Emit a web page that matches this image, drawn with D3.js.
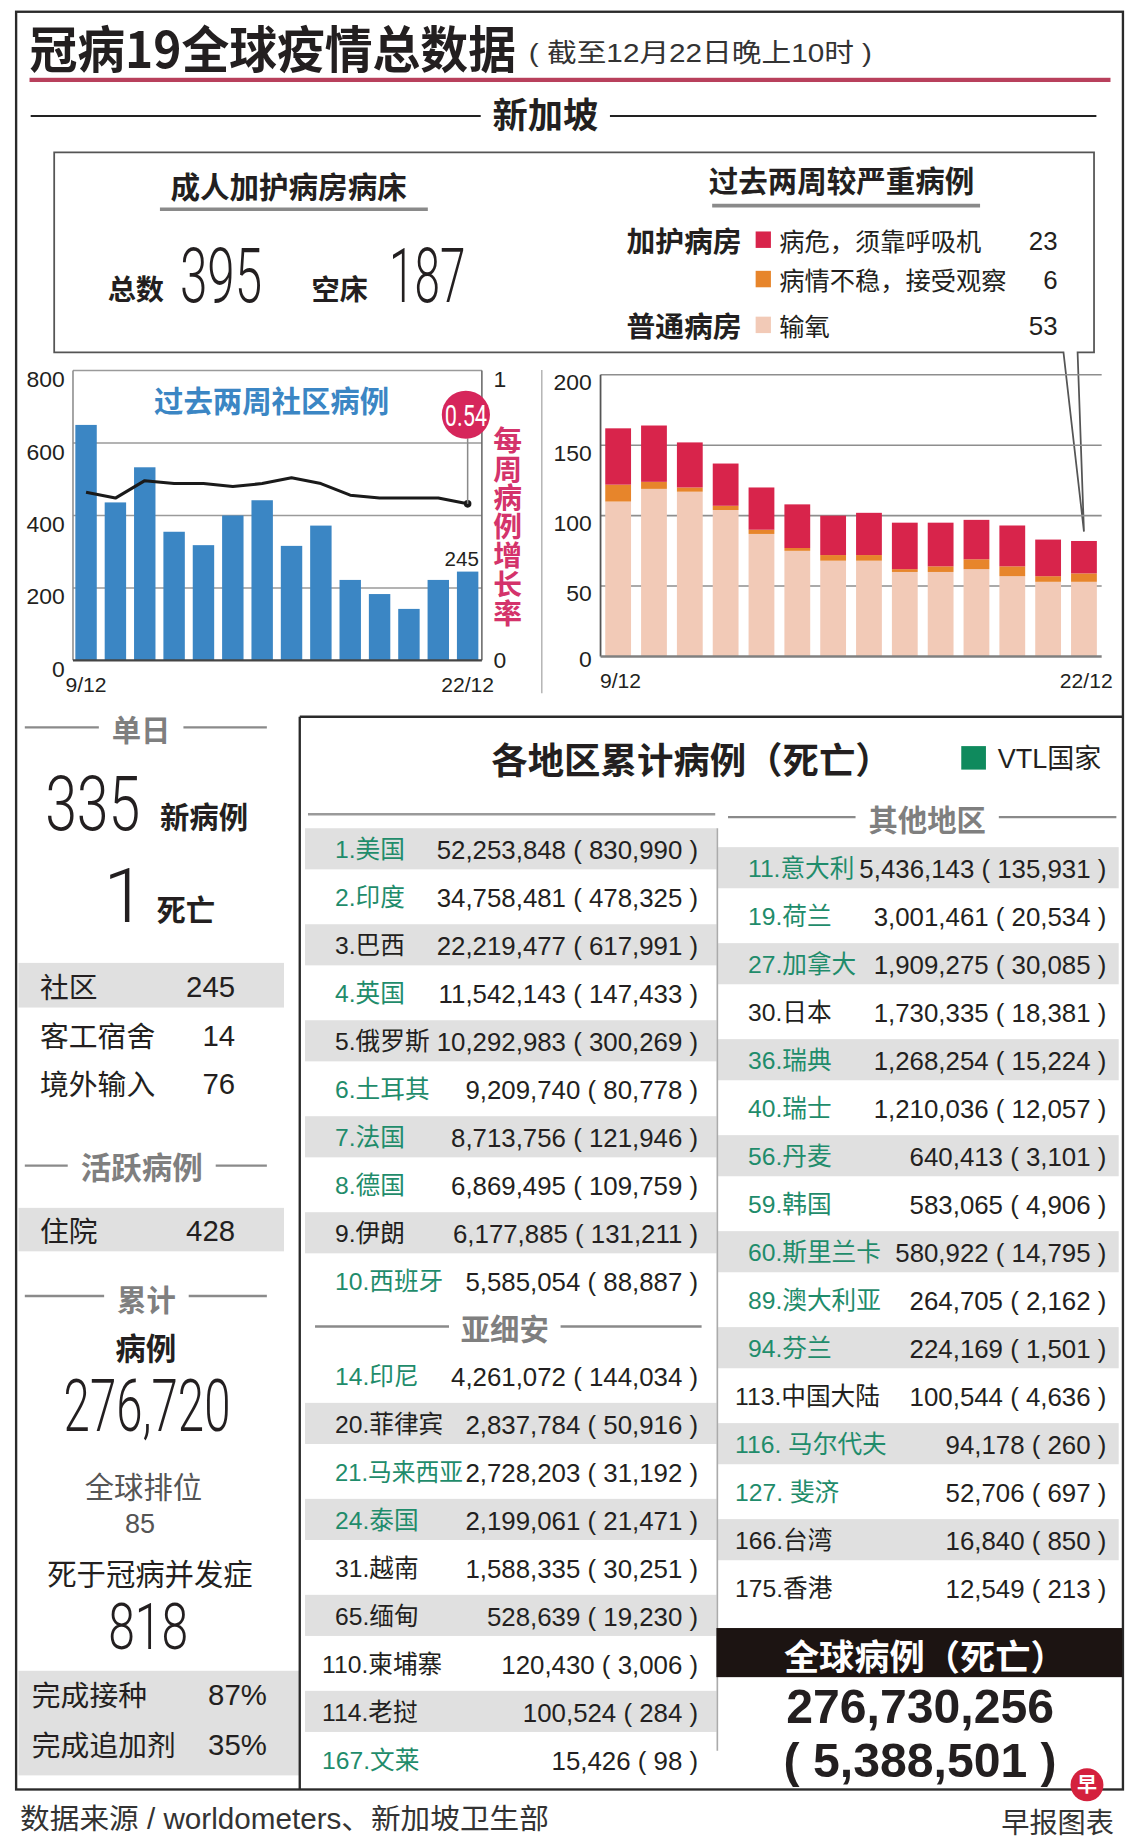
<!DOCTYPE html>
<html>
<head>
<meta charset="utf-8">
<script src="https://cdn.jsdelivr.net/npm/d3@7"></script>
<style>
  html, body { margin: 0; padding: 0; background: #fff; }
  svg { display: block; }
</style>
</head>
<body>
<svg id="chart"></svg>
<script>
// ---- data ----
const dates = ['9/12', '10/12', '11/12', '12/12', '13/12', '14/12', '15/12', '16/12', '17/12', '18/12', '19/12', '20/12', '21/12', '22/12'];
const communityCases = [650, 436, 533, 355, 318, 400, 442, 316, 372, 222, 183, 142, 222, 245];
const weeklyGrowth = [0.58, 0.56, 0.62, 0.61, 0.61, 0.60, 0.61, 0.63, 0.61, 0.57, 0.56, 0.56, 0.56, 0.54];
const oxygen = [110, 119, 117, 104, 87, 75, 68, 68, 60, 60, 62, 57, 53, 53];
const unstable = [12, 5, 3, 3, 3, 2, 4, 4, 2, 4, 7, 7, 4, 6];
const critical = [40, 40, 32, 30, 30, 31, 28, 30, 33, 31, 28, 29, 26, 23];

const leftTicks = [0, 200, 400, 600, 800];
const rateTicks = [0, 1];
const severeTicks = [0, 50, 100, 150, 200];

const icuBeds = [['总数', '395'], ['空床', '187']];
const severeLegend = [
  ['加护病房', '病危，须靠呼吸机', '23', 'critical'],
  ['', '病情不稳，接受观察', '6', 'unstable'],
  ['普通病房', '输氧', '53', 'oxygen']
];

const dailyNew = '335';
const dailyDeaths = '1';
const dailySources = [['社区', '245'], ['客工宿舍', '14'], ['境外输入', '76']];
const activeCases = [['住院', '428']];
const totalCases = '276,720';
const worldRank = '85';
const totalDeaths = '818';
const vaccination = [['完成接种', '87%'], ['完成追加剂', '35%']];

// [label, cases, deaths, VTL]
const topTen = [
  ['1.美国', '52,253,848', '830,990', true],
  ['2.印度', '34,758,481', '478,325', true],
  ['3.巴西', '22,219,477', '617,991', false],
  ['4.英国', '11,542,143', '147,433', true],
  ['5.俄罗斯', '10,292,983', '300,269', false],
  ['6.土耳其', '9,209,740', '80,778', true],
  ['7.法国', '8,713,756', '121,946', true],
  ['8.德国', '6,869,495', '109,759', true],
  ['9.伊朗', '6,177,885', '131,211', false],
  ['10.西班牙', '5,585,054', '88,887', true]
];
const asean = [
  ['14.印尼', '4,261,072', '144,034', true],
  ['20.菲律宾', '2,837,784', '50,916', false],
  ['21.马来西亚', '2,728,203', '31,192', true],
  ['24.泰国', '2,199,061', '21,471', true],
  ['31.越南', '1,588,335', '30,251', false],
  ['65.缅甸', '528,639', '19,230', false],
  ['110.柬埔寨', '120,430', '3,006', false],
  ['114.老挝', '100,524', '284', false],
  ['167.文莱', '15,426', '98', true]
];
const otherRegions = [
  ['11.意大利', '5,436,143', '135,931', true],
  ['19.荷兰', '3,001,461', '20,534', true],
  ['27.加拿大', '1,909,275', '30,085', true],
  ['30.日本', '1,730,335', '18,381', false],
  ['36.瑞典', '1,268,254', '15,224', true],
  ['40.瑞士', '1,210,036', '12,057', true],
  ['56.丹麦', '640,413', '3,101', true],
  ['59.韩国', '583,065', '4,906', true],
  ['60.斯里兰卡', '580,922', '14,795', true],
  ['89.澳大利亚', '264,705', '2,162', true],
  ['94.芬兰', '224,169', '1,501', true],
  ['113.中国大陆', '100,544', '4,636', false],
  ['116. 马尔代夫', '94,178', '260', true],
  ['127. 斐济', '52,706', '697', true],
  ['166.台湾', '16,840', '850', false],
  ['175.香港', '12,549', '213', false]
];
const globalCases = '276,730,256';
const globalDeaths = '5,388,501';

// ---- styles ----
const INK = '#231f20';
const GREY = '#7f7f7f';
const BAND = '#e0e0e0';
const GREEN = '#1f8c6b';
const BLUE = '#3b86c4';
const PINK = '#d6265b';
const STACK = {oxygen: '#f2cab7', unstable: '#e7852b', critical: '#d8244b'};
const CJK = '"Noto Sans CJK SC", "Noto Sans", sans-serif';
const NUM = '"Liberation Sans", Arial, "Noto Sans CJK SC", sans-serif';
const THIN = 'Roboto, "Liberation Sans", sans-serif';

const svg = d3.select('#chart')
  .attr('width', 1140).attr('height', 1840)
  .attr('viewBox', '0 0 970 1566');

function label(g, x, y, s, o = {}) {
  const t = g.append('text')
    .attr('x', x).attr('y', y)
    .attr('font-family', o.font || CJK)
    .attr('font-size', o.size || 22)
    .attr('font-weight', o.weight || 400)
    .attr('fill', o.fill || INK)
    .attr('text-anchor', o.anchor || 'start')
    .attr('dominant-baseline', o.base || 'central')
    .text(s);
  if (o.len) t.attr('textLength', o.len).attr('lengthAdjust', 'spacingAndGlyphs');
  return t;
}

// condensed thin figures: squeeze horizontally to the width seen in the picture
function squeezed(g, x, y, s, len, o = {}) {
  const t = label(g, 0, 0, s, Object.assign({font: THIN, weight: 300, base: 'alphabetic'}, o));
  const w = t.node().getComputedTextLength();
  t.attr('transform', `translate(${x},${y}) scale(${len / w},1)`);
  return t;
}

function hline(g, x1, x2, y, color, w) {
  g.append('line').attr('x1', x1).attr('x2', x2).attr('y1', y).attr('y2', y)
    .attr('stroke', color).attr('stroke-width', w);
}
function vline(g, x, y1, y2, color, w) {
  g.append('line').attr('x1', x).attr('x2', x).attr('y1', y1).attr('y2', y2)
    .attr('stroke', color).attr('stroke-width', w);
}

function sectionHeader(g, cx, y, s, x0, x1, o = {}) {
  const t = label(g, cx, y, s, Object.assign({anchor: 'middle', weight: 700, fill: GREY, size: 25}, o));
  const w = t.node().getComputedTextLength();
  const gap = o.gap || 11;
  const ly = o.lineY || y;
  hline(g, x0, cx - w / 2 - gap, ly, o.lineColor || '#8a8a8a', o.lineWidth || 2);
  hline(g, cx + w / 2 + gap, x1, ly, o.lineColor || '#8a8a8a', o.lineWidth || 2);
}

function draw() {
  // ---- frame & title ----
  svg.append('rect').attr('x', 13.6).attr('y', 10).attr('width', 942).attr('height', 1513)
    .attr('fill', 'none').attr('stroke', '#2a2a2a').attr('stroke-width', 2);
  label(svg, 25, 39.5, '冠病19全球疫情总数据', {size: 43, weight: 700, len: 414});
  label(svg, 450, 45.5, '( 截至12月22日晚上10时 )', {font: NUM, size: 22, fill: '#333', len: 292});
  svg.append('rect').attr('x', 25).attr('y', 66.2).attr('width', 920).attr('height', 3.6).attr('fill', '#b8405c');
  sectionHeader(svg, 464, 95.5, '新加坡', 26, 933, {size: 30, fill: INK, lineY: 98.7, lineColor: '#222', lineWidth: 1.6, gap: 10});

  // ---- ICU box with callout to last stacked bar ----
  const xS = d3.scaleBand().domain(dates).range([515, 933.4]).paddingInner(0.28);
  const yS = d3.scaleLinear().domain([0, 200]).range([558.7, 319]);
  const last = dates.length - 1;
  const apexX = xS(dates[last]) + xS.bandwidth() / 2;
  const apexY = yS(oxygen[last] + unstable[last] + critical[last]) - 8;
  svg.append('path')
    .attr('d', `M46,129.6 H931 V300 H917 L${apexX},${apexY} L905,300 H46 Z`)
    .attr('fill', 'none').attr('stroke', '#555').attr('stroke-width', 1.5);

  label(svg, 245.5, 157.5, '成人加护病房病床', {size: 25, weight: 700, len: 201, anchor: 'middle'});
  hline(svg, 136, 364, 178, '#8a8a8a', 3);
  label(svg, 716, 152.5, '过去两周较严重病例', {size: 25, weight: 700, len: 226, anchor: 'middle'});
  hline(svg, 606, 834, 175, '#8a8a8a', 3);

  const bedX = [[91.5, 153, 70], [265, 331, 65]];
  icuBeds.forEach((d, i) => {
    label(svg, bedX[i][0], 245, d[0], {size: 24, weight: 700});
    squeezed(svg, bedX[i][1], 257, d[1], bedX[i][2], {size: 64});
  });

  const legY = [204, 237.5, 276.5];
  severeLegend.forEach((d, i) => {
    if (d[0]) label(svg, 533, legY[i], d[0], {size: 24.5, weight: 700, len: 98});
    svg.append('rect').attr('x', 643).attr('y', legY[i] - 7).attr('width', 13).attr('height', 14).attr('fill', STACK[d[3]]);
    label(svg, 663, legY[i], d[1], {size: 21.5});
    label(svg, 900, legY[i] + 1, d[2], {font: NUM, size: 22, anchor: 'end'});
  });

  // ---- left chart: community cases + weekly growth ----
  const xL = d3.scaleBand().domain(dates).range([64, 407]).paddingInner(0.27);
  const yL = d3.scaleLinear().domain([0, 800]).range([562, 315.4]);
  const yR = d3.scaleLinear().domain([0, 1]).range([562, 315.4]);
  const gl = svg.append('g');

  leftTicks.filter(t => t > 0).forEach(t => hline(gl, 62, 410, yL(t), '#9a9a9a', 1.3));
  vline(gl, 62, yL(800), yL(0), '#8a8a8a', 1.3);
  vline(gl, 410, yL(800), yL(0), '#666', 1.3);

  gl.selectAll('rect.bar').data(communityCases).join('rect').attr('class', 'bar')
    .attr('x', (d, i) => xL(dates[i])).attr('width', xL.bandwidth())
    .attr('y', d => yL(d)).attr('height', d => yL(0) - yL(d))
    .attr('fill', BLUE);
  hline(gl, 62, 410, yL(0), '#444', 2);

  const fsTick = 19.5;
  const fsDate = 18;
  gl.append('g').attr('transform', 'translate(62,0)')
    .call(d3.axisLeft(yL).tickValues(leftTicks).tickSize(0).tickPadding(7))
    .call(g => g.select('.domain').remove())
    .attr('font-family', NUM).attr('font-size', fsTick).attr('color', INK)
    .selectAll('text').attr('dy', 0.34 * fsTick + 7);
  gl.append('g').attr('transform', 'translate(410,0)')
    .call(d3.axisRight(yR).tickValues(rateTicks).tickFormat(d3.format('d')).tickSize(0).tickPadding(10))
    .call(g => g.select('.domain').remove())
    .attr('font-family', NUM).attr('font-size', fsTick).attr('color', INK)
    .selectAll('text').attr('dy', d => 0.34 * fsTick + (d === 0 ? -1 : 6.5));
  gl.append('g').attr('transform', `translate(0,${yL(0)})`)
    .call(d3.axisBottom(xL).tickValues([dates[0], dates[last]]).tickSize(0).tickPadding(14))
    .call(g => g.select('.domain').remove())
    .attr('font-family', NUM).attr('font-size', fsDate).attr('color', INK);

  const cx = i => xL(dates[i]) + xL.bandwidth() / 2;
  label(gl, cx(last) - 5, yL(communityCases[last]) - 11, communityCases[last], {font: NUM, size: 17.5, anchor: 'middle'});
  gl.append('path').datum(weeklyGrowth)
    .attr('d', d3.line().x((d, i) => cx(i)).y(d => yR(d)))
    .attr('fill', 'none').attr('stroke', '#1a1a1a').attr('stroke-width', 2.6).attr('stroke-linejoin', 'round');
  gl.append('circle').attr('cx', cx(last)).attr('cy', yR(weeklyGrowth[last])).attr('r', 3.2).attr('fill', '#1a1a1a');

  const bubbleY = 353;
  vline(gl, cx(last), bubbleY + 20, yR(weeklyGrowth[last]), '#8a8a8a', 1.3);
  gl.append('circle').attr('cx', cx(last) - 1.5).attr('cy', bubbleY).attr('r', 20.5).attr('fill', PINK);
  squeezed(gl, cx(last) - 1.5, bubbleY + 9.5, d3.format('.2f')(weeklyGrowth[last]), 36,
    {size: 25, weight: 400, fill: '#fff', anchor: 'middle'});

  label(gl, 231, 340, '过去两周社区病例', {size: 25, weight: 700, fill: BLUE, anchor: 'middle', len: 200});
  // vertical axis title, one text element set top-to-bottom
  gl.append('text')
    .attr('x', 432).attr('y', 362)
    .style('writing-mode', 'vertical-rl')
    .attr('font-family', CJK).attr('font-size', 24.5).attr('font-weight', 700)
    .attr('fill', '#d4336b')
    .attr('textLength', 172).attr('lengthAdjust', 'spacing')
    .text('每周病例增长率');

  vline(svg, 461, 315, 590, '#b0b0b0', 1.2);

  // ---- right chart: severe cases stacked ----
  const gr = svg.append('g');
  severeTicks.filter(t => t > 0).forEach(t => hline(gr, 511, 937.5, yS(t), '#8e8e8e', 1.3));
  const rows = dates.map((d, i) => ({date: d, oxygen: oxygen[i], unstable: unstable[i], critical: critical[i]}));
  const series = d3.stack().keys(['oxygen', 'unstable', 'critical'])(rows);
  gr.selectAll('g.layer').data(series).join('g').attr('class', 'layer')
    .attr('fill', s => STACK[s.key])
    .selectAll('rect').data(s => s).join('rect')
    .attr('x', d => xS(d.data.date)).attr('width', xS.bandwidth())
    .attr('y', d => yS(d[1])).attr('height', d => yS(d[0]) - yS(d[1]));
  vline(gr, 511, yS(200), yS(0), '#555', 1.5);
  hline(gr, 511, 937.5, yS(0), '#808080', 2);
  gr.append('g').attr('transform', 'translate(511,0)')
    .call(d3.axisLeft(yS).tickValues(severeTicks).tickSize(0).tickPadding(7.5))
    .call(g => g.select('.domain').remove())
    .attr('font-family', NUM).attr('font-size', fsTick).attr('color', INK)
    .selectAll('text').attr('dy', d => 0.34 * fsTick + (d === 0 ? 1.5 : 6));
  gr.append('g').attr('transform', `translate(2,${yS(0)})`)
    .call(d3.axisBottom(xS).tickValues([dates[0], dates[last]]).tickSize(0).tickPadding(14))
    .call(g => g.select('.domain').remove())
    .attr('font-family', NUM).attr('font-size', fsDate).attr('color', INK);

  // ---- left column: Singapore numbers ----
  const gs = svg.append('g');
  sectionHeader(gs, 120, 620, '单日', 21, 227, {lineY: 619});
  squeezed(gs, 38.3, 706, dailyNew, 81, {size: 65});
  label(gs, 136, 694, '新病例', {size: 25, weight: 700});
  label(gs, 106, 784.6, dailyDeaths, {font: THIN, size: 65, weight: 300, base: 'alphabetic', anchor: 'middle'});
  label(gs, 133, 773, '死亡', {size: 25, weight: 700});

  const srcY = [838.5, 880.5, 921];
  gs.append('rect').attr('x', 15.6).attr('y', 819.5).attr('width', 226).attr('height', 38).attr('fill', BAND);
  dailySources.forEach((d, i) => {
    label(gs, 34, srcY[i], d[0], {size: 24.5});
    label(gs, 200, srcY[i] + 1, d[1], {font: NUM, size: 25, anchor: 'end'});
  });

  sectionHeader(gs, 120.5, 992, '活跃病例', 21, 227, {size: 26});
  gs.append('rect').attr('x', 15.6).attr('y', 1028).attr('width', 226).attr('height', 37).attr('fill', BAND);
  activeCases.forEach(d => {
    label(gs, 34, 1046.5, d[0], {size: 24.5});
    label(gs, 200, 1047.5, d[1], {font: NUM, size: 25, anchor: 'end'});
  });

  sectionHeader(gs, 124.5, 1105, '累计', 21, 227, {lineY: 1103});
  label(gs, 124, 1146, '病例', {size: 26, weight: 700, anchor: 'middle'});
  squeezed(gs, 54, 1218, totalCases, 142, {size: 61});
  label(gs, 122, 1263.5, '全球排位', {size: 25, fill: '#555', anchor: 'middle'});
  label(gs, 119, 1297, worldRank, {font: NUM, size: 23, fill: '#555', anchor: 'middle'});
  label(gs, 127.5, 1338, '死于冠病并发症', {size: 25, anchor: 'middle'});
  squeezed(gs, 92, 1403.5, totalDeaths, 68, {size: 55});

  gs.append('rect').attr('x', 15.6).attr('y', 1422).attr('width', 239.4).attr('height', 89).attr('fill', BAND);
  const vacY = [1441, 1484];
  vaccination.forEach((d, i) => {
    label(gs, 27, vacY[i], d[0], {size: 24.5});
    label(gs, 227, vacY[i] + 1, d[1], {font: NUM, size: 25, anchor: 'end'});
  });

  // ---- table of regions ----
  const gt = svg.append('g');
  const PITCH = 40.85;
  function drawTable(data, y0, nameX, rightX, band, grayParity) {
    const yb = d3.scaleBand().domain(d3.range(data.length))
      .range([y0 - PITCH / 2, y0 - PITCH / 2 + PITCH * data.length]);
    const row = gt.append('g').selectAll('g').data(data).join('g')
      .attr('transform', (d, i) => `translate(0,${yb(i) + yb.bandwidth() / 2})`);
    row.filter((d, i) => i % 2 === grayParity).append('rect')
      .attr('x', band[0]).attr('y', -17.5).attr('width', band[1] - band[0]).attr('height', 35)
      .attr('fill', BAND);
    row.each(function(d) {
      const r = d3.select(this);
      const x0 = parseInt(d[0]) >= 100 ? nameX - 11 : nameX;
      const val = r.append('text')
        .attr('x', rightX).attr('y', 1).attr('text-anchor', 'end')
        .attr('dominant-baseline', 'central')
        .attr('font-family', NUM).attr('font-size', 22).attr('fill', INK)
        .text(`${d[1]} ( ${d[2]} )`);
      const name = r.append('text')
        .attr('dominant-baseline', 'central')
        .attr('font-family', NUM).attr('font-size', 21)
        .attr('fill', d[3] ? GREEN : INK)
        .text(d[0]);
      // squeeze a long name so it stops just before the figures
      const room = rightX - val.node().getComputedTextLength() - 2 - x0;
      const w = name.node().getComputedTextLength();
      const sx = w > room ? room / w : 1;
      name.attr('transform', `translate(${x0},1) scale(${sx},1)`);
    });
  }

  label(gt, 418, 645, '各地区累计病例（死亡）', {size: 31, weight: 700});
  gt.append('rect').attr('x', 818).attr('y', 635).attr('width', 21).attr('height', 20).attr('fill', '#0f8a5d');
  label(gt, 849, 646, 'VTL国家', {font: NUM, size: 23});
  hline(gt, 262, 608.6, 693, '#9a9a9a', 2);
  sectionHeader(gt, 789, 696, '其他地区', 619.5, 950, {lineY: 695.5});

  drawTable(topTen, 722.4, 285, 594, [259.5, 609.8], 0);
  sectionHeader(gt, 429.5, 1129, '亚细安', 268, 597, {gap: 10});
  drawTable(asean, 1170.6, 285, 594, [259.5, 609.8], 1);
  drawTable(otherRegions, 738.5, 636.5, 941.5, [611, 952], 0);
  vline(gt, 610.4, 705, 1490, '#ababab', 1.4);

  gt.append('rect').attr('x', 609.6).attr('y', 1385.6).attr('width', 345.4).attr('height', 41.8).attr('fill', '#1c1412');
  label(gt, 787, 1408, '全球病例（死亡）', {size: 30, weight: 700, fill: '#fff', anchor: 'middle'});
  label(gt, 783, 1466, globalCases, {font: NUM, size: 41, weight: 700, base: 'alphabetic', anchor: 'middle'});
  label(gt, 783, 1512, `( ${globalDeaths} )`, {font: NUM, size: 41, weight: 700, base: 'alphabetic', anchor: 'middle'});

  // table box border (left + top), outer frame carries the rest
  hline(svg, 255, 955, 610, '#2a2a2a', 2);
  vline(svg, 255, 610, 1523, '#2a2a2a', 2);

  // ---- footer ----
  label(svg, 17, 1548, '数据来源 / worldometers、新加坡卫生部', {font: NUM, size: 24.5, fill: '#333', len: 450});
  label(svg, 852, 1549.5, '早报图表', {size: 24, fill: '#333', len: 96});
  svg.append('circle').attr('cx', 925).attr('cy', 1519).attr('r', 14).attr('fill', '#d4213d');
  label(svg, 925, 1518, '早', {size: 17, weight: 700, fill: '#fff', anchor: 'middle'});
}

document.fonts.ready.then(draw);
</script>
</body>
</html>
